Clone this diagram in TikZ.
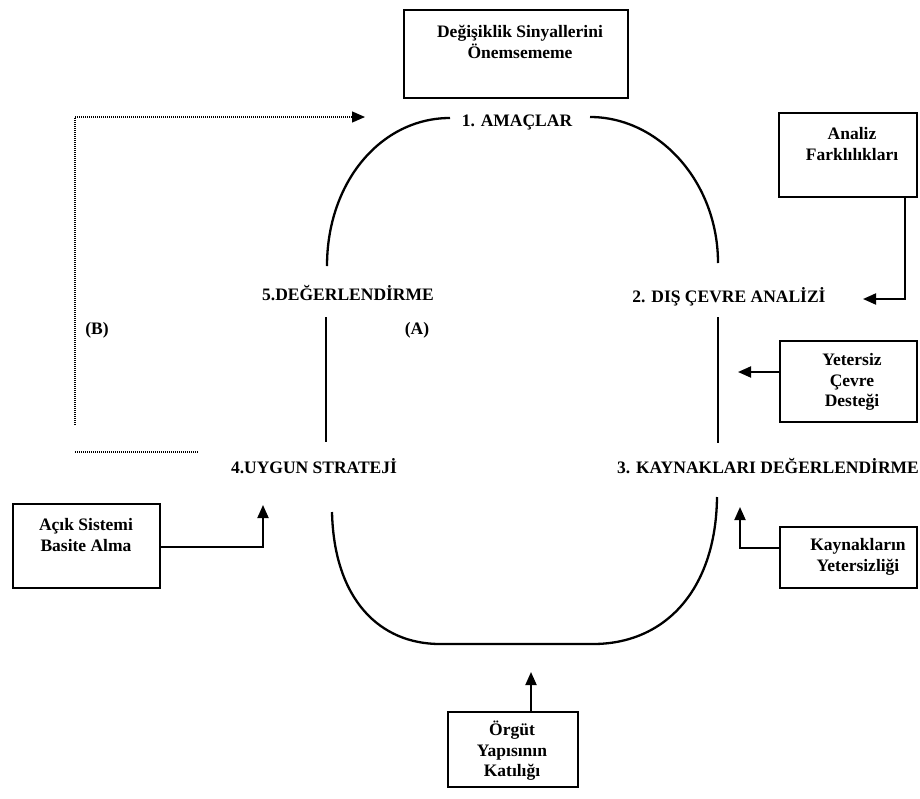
\documentclass[tikz,border=0pt]{standalone}
\usepackage{fontspec}
\setmainfont{Liberation Serif}
\usetikzlibrary{arrows.meta}
\begin{document}
\begin{tikzpicture}[x=1pt,y=-1pt,
  box/.style={draw,line width=1.6pt,inner sep=0pt},
  boxtext/.style={align=center,font=\fontsize{17.5}{20.5}\selectfont\bfseries,inner sep=0pt},
  lab/.style={font=\fontsize{17.5}{20}\selectfont\bfseries,inner sep=0pt},
  loopline/.style={line width=2.3pt},
  conn/.style={line width=1.9pt,-{Triangle[length=13pt,width=11pt]}},
  dotline/.style={line width=1.3pt,dash pattern=on 1pt off 1pt}]
\useasboundingbox (0,0) rectangle (920,798);
% boxes
\node[box,minimum width=224pt,minimum height=88pt] (top) at (516,54) {};
\node[boxtext] (topt) at (520,42) {Değişiklik Sinyallerini\\Önemsememe};
\node[box,minimum width=138pt,minimum height=84pt] (ana) at (848,155) {};
\node[boxtext] (anat) at (852,144) {Analiz\\Farklılıkları};
\node[box,minimum width=137pt,minimum height=81pt] (yet) at (848.5,381.5) {};
\node[boxtext] (yett) at (852,382) {Yetersiz\\Çevre\\Desteği};
\node[box,minimum width=137pt,minimum height=61pt] (kay) at (848.5,557.5) {};
\node[boxtext] (kayt) at (858,557) {Kaynakların\\Yetersizliği};
\node[box,minimum width=147pt,minimum height=84pt] (acik) at (86.5,546) {};
\node[boxtext] (acikt) at (86,535) {Açık Sistemi\\Basite Alma};
\node[box,minimum width=130pt,minimum height=75pt] (org) at (513,749.5) {};
\node[boxtext] (orgt) at (512,751) {Örgüt\\Yapısının\\Katılığı};
% labels
\node[lab] (l1) at (517,123) {1. AMAÇLAR};
\node[lab] (l2) at (729,297) {2. DIŞ ÇEVRE ANALİZİ};
\node[lab] (l3) at (768,466) {3. KAYNAKLARI DEĞERLENDİRME};
\node[lab] (l4) at (314,466) {4.UYGUN STRATEJİ};
\node[lab] (l5) at (348,293) {5.DEĞERLENDİRME};
\node[lab] (la) at (417,330) {(A)};
\node[lab] (lb) at (97,330) {(B)};
% loop
\draw[loopline] (450,118) .. controls (381,118) and (327,182) .. (327,266);
\draw[loopline] (590,117) .. controls (659,117) and (718,182) .. (718,263);
\draw[loopline] (326,317) -- (326,442);
\draw[loopline] (718,317) -- (718,443);
\draw[loopline] (332,512) .. controls (334,600) and (380,644) .. (440,644) -- (593,644) .. controls (665,644) and (716,590) .. (717,497);
% arrow end points
\coordinate (t2) at (863,299);
\coordinate (t3) at (738,372);
\coordinate (t4) at (740,507);
\coordinate (t5) at (263,505);
\coordinate (t6) at (531,672);
\coordinate (tb) at (365,117);
\coordinate (db) at (75,425);
\coordinate (h1) at (75,452);
\coordinate (h2) at (198,452);
% connectors
\draw[conn] (ana.south -| 905,0) |- (t2);
\draw[conn] (yet.west |- t3) -- (t3);
\draw[conn] (kay.west |- 0,548) -| (t4);
\draw[conn] (acik.east |- 0,547) -| (t5);
\draw[conn] (org.north -| t6) -- (t6);
% dotted feedback
\draw[dotline,-{Triangle[length=13pt,width=11pt]}] (db) |- (tb);
\draw[dotline] (h1) -- (h2);
\end{tikzpicture}
\end{document}
